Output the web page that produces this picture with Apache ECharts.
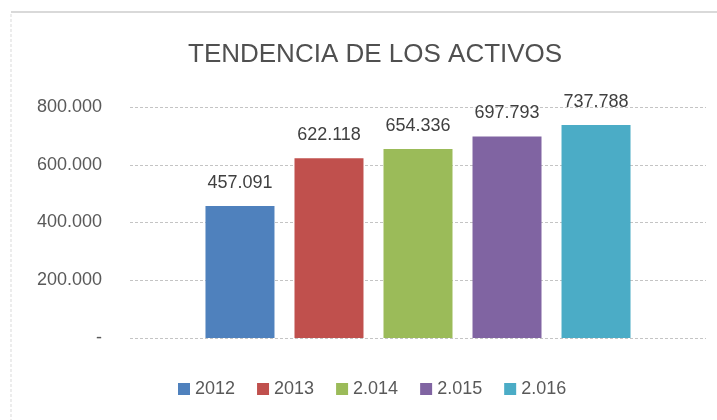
<!DOCTYPE html>
<html>
<head>
<meta charset="utf-8">
<script src="https://cdn.jsdelivr.net/npm/echarts@6/dist/echarts.min.js"></script>
<style>
    html, body { margin: 0; padding: 0; background: #fff; }
    #activos_chart { width: 717px; height: 420px; }
</style>
</head>
<body>
<div id="activos_chart"></div>
<script>
// Data
// ------------------------------

var years = ['2012', '2013', '2.014', '2.015', '2.016'];
var activos = [457091, 622118, 654336, 697793, 737788];
var colors = ['#4f81bd', '#c0504d', '#9bbb59', '#8064a2', '#4bacc6'];
var yTicks = [0, 200000, 400000, 600000, 800000];


// Helpers
// ------------------------------

// 457091 -> "457.091", 0 -> "-"
var formatMiles = function(v) {
    if (v === 0) return '-';
    return String(v).replace(/\B(?=(\d{3})+(?!\d))/g, '.');
};

var FONT = '"Liberation Sans", Arial, sans-serif';


// Chart
// ------------------------------

var chart_element = document.getElementById('activos_chart');
var chart = echarts.init(chart_element);

var series = years.map(function(year, i) {
    return {
        name: year,
        type: 'bar',
        barWidth: 69,
        barGap: '29%',
        itemStyle: { color: colors[i] },
        label: {
            show: true,
            position: 'top',
            distance: 14,
            color: '#404040',
            fontFamily: FONT,
            fontSize: 18,
            formatter: function(p) { return formatMiles(p.value); }
        },
        data: [activos[i]]
    };
});

chart.setOption({
    animation: false,
    color: colors,
    textStyle: { fontFamily: FONT },

    // Outer chart frame (top + left edge visible)
    graphic: [{
        type: 'rect',
        shape: { x: 11, y: 12, width: 740, height: 440 },
        style: { fill: 'none', stroke: '#d9d9d9', lineWidth: 1, lineDash: [3, 2] },
        silent: true
    }, {
        type: 'line',
        shape: { x1: 11, y1: 12, x2: 717, y2: 12 },
        style: { stroke: '#d9d9d9', lineWidth: 2 },
        silent: true
    }],

    title: {
        text: 'TENDENCIA DE LOS ACTIVOS',
        left: 183,
        top: 37,
        textStyle: {
            fontFamily: FONT,
            fontSize: 26,
            fontWeight: 'normal',
            color: '#505050'
        }
    },

    legend: {
        data: years,
        left: 173,
        top: 375,
        icon: 'rect',
        itemWidth: 12,
        itemHeight: 12,
        itemGap: 22,
        textStyle: {
            fontFamily: FONT,
            fontSize: 18,
            color: '#595959'
        }
    },

    grid: {
        left: 130,
        right: 11,
        top: 107,
        bottom: 82,
        containLabel: false
    },

    xAxis: {
        type: 'category',
        data: [''],
        axisLine: { show: false },
        axisTick: { show: false },
        axisLabel: { show: false }
    },

    yAxis: {
        type: 'value',
        min: yTicks[0],
        max: yTicks[yTicks.length - 1],
        interval: yTicks[1] - yTicks[0],
        axisLine: { show: false },
        axisTick: { show: false },
        axisLabel: {
            margin: 28,
            color: '#595959',
            fontFamily: FONT,
            fontSize: 18,
            formatter: formatMiles
        },
        splitLine: {
            lineStyle: { color: '#c4c4c4', type: [3, 2], width: 1 }
        }
    },

    series: series
});
</script>
</body>
</html>
